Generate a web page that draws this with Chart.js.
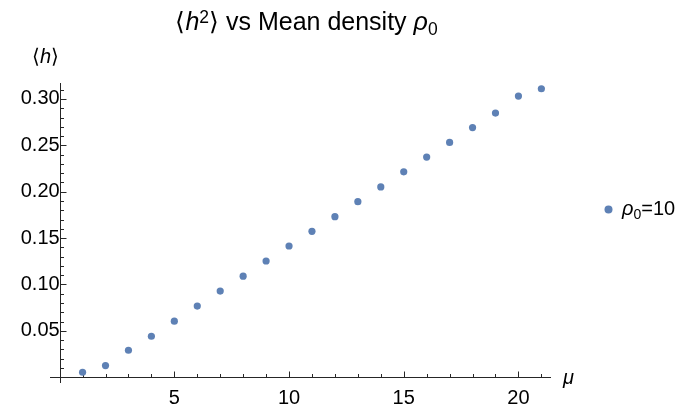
<!DOCTYPE html>
<html>
<head>
<meta charset="utf-8">
<script src="https://cdn.jsdelivr.net/npm/chart.js@4.4.1/dist/chart.umd.min.js"></script>
<style>
  html, body { margin: 0; padding: 0; background: #fff; }
</style>
</head>
<body>
<canvas id="chart" width="684" height="409"></canvas>
<script>
// data
const muValues = [1, 2, 3, 4, 5, 6, 7, 8, 9, 10, 11, 12, 13, 14, 15, 16, 17, 18, 19, 20, 21];
const h2Values = [0.0054, 0.0126, 0.0291, 0.0442, 0.0605, 0.0767, 0.0929, 0.1090, 0.1253, 0.1415,
  0.1573, 0.1731, 0.1893, 0.2052, 0.2214, 0.2373, 0.2531, 0.2692, 0.2848, 0.3031, 0.3110];
const seriesLabel = 'ρ0=10';
const xTicks = [5, 10, 15, 20];
const yTicks = [0.05, 0.10, 0.15, 0.20, 0.25, 0.30];

const FONT = "'Liberation Sans', Arial, Helvetica, sans-serif";
const DOT = '#5E81B5';
const AXIS = '#262626';

// minor ticks every 1 on x, every 0.01 on y
const xMinor = [];
for (let i = 1; i <= 21; i++) if (!xTicks.includes(i)) xMinor.push(i);
const yMinor = [];
for (let i = 1; i <= 31; i++) if (i % 5) yMinor.push(i / 100);

// draws text made of pieces: [text, style], style '', 'i', 'sup', 'sub'
function richText(ctx, parts, x, y, size, align) {
  const fontFor = st => {
    const s = (st === 'sup' || st === 'sub') ? size * 0.7 : size;
    return (st === 'i' ? 'italic ' : '') + s + 'px ' + FONT;
  };
  let w = 0;
  parts.forEach(([t, st]) => { ctx.font = fontFor(st); w += ctx.measureText(t).width; });
  let cx = align === 'center' ? x - w / 2 : align === 'right' ? x - w : x;
  ctx.textAlign = 'left';
  ctx.textBaseline = 'alphabetic';
  parts.forEach(([t, st]) => {
    ctx.font = fontFor(st);
    let dy = 0;
    if (st === 'sup') dy = -size * 0.3;
    if (st === 'sub') dy = size * 0.2;
    ctx.fillText(t, cx, y + dy);
    cx += ctx.measureText(t).width;
  });
}

const mmaAxes = {
  id: 'mmaAxes',
  beforeDatasetsDraw(chart) {
    const { ctx, chartArea: a, scales: { x, y } } = chart;
    const x0 = Math.round(x.getPixelForValue(0)) + 0.5;
    const y0 = Math.round(y.getPixelForValue(0)) + 0.5;
    ctx.save();
    ctx.strokeStyle = AXIS;
    ctx.lineWidth = 1;
    ctx.beginPath();
    ctx.moveTo(a.left, y0); ctx.lineTo(a.right, y0);
    ctx.moveTo(x0, a.top); ctx.lineTo(x0, a.bottom);
    xTicks.forEach(v => { const p = Math.round(x.getPixelForValue(v)) + 0.5; ctx.moveTo(p, y0); ctx.lineTo(p, y0 - 6); });
    xMinor.forEach(v => { const p = Math.round(x.getPixelForValue(v)) + 0.5; ctx.moveTo(p, y0); ctx.lineTo(p, y0 - 3.5); });
    yTicks.forEach(v => { const p = Math.round(y.getPixelForValue(v)) + 0.5; ctx.moveTo(x0, p); ctx.lineTo(x0 + 6, p); });
    yMinor.forEach(v => { const p = Math.round(y.getPixelForValue(v)) + 0.5; ctx.moveTo(x0, p); ctx.lineTo(x0 + 3.5, p); });
    ctx.stroke();
    ctx.restore();
  },
  afterDraw(chart) {
    const { ctx, chartArea: a } = chart;
    ctx.save();
    ctx.fillStyle = '#000';
    // title
    richText(ctx, [['⟨', ''], ['h', 'i'], ['2', 'sup'], ['⟩ vs Mean density ', ''], ['ρ', 'i'], ['0', 'sub']],
      (a.left + a.right) / 2 + 6, 30, 25, 'center');
    // axis labels
    richText(ctx, [['⟨', ''], ['h', 'i'], ['⟩', '']], 59, 63, 20, 'right');
    richText(ctx, [['μ', 'i']], 563, 384, 20, 'left');
    // legend
    const ds = chart.data.datasets[0];
    ctx.fillStyle = ds.backgroundColor;
    ctx.beginPath();
    ctx.arc(608.5, 209.5, 4, 0, Math.PI * 2);
    ctx.fill();
    ctx.fillStyle = '#000';
    const m = ds.label.match(/^(ρ)(\d)(.*)$/);
    richText(ctx, [[m[1], 'i'], [m[2], 'sub'], [m[3], '']], 622, 215, 20, 'left');
    ctx.restore();
  }
};

new Chart(document.getElementById('chart'), {
  type: 'scatter',
  data: {
    datasets: [{
      label: seriesLabel,
      data: muValues.map((m, i) => ({ x: m, y: h2Values[i] })),
      backgroundColor: DOT,
      borderWidth: 0,
      pointRadius: 3.6,
      pointHoverRadius: 3.6
    }]
  },
  options: {
    responsive: false,
    devicePixelRatio: 1,
    animation: false,
    layout: { padding: { left: 50, right: 133, top: 83, bottom: 26 } },
    plugins: { legend: { display: false }, title: { display: false }, tooltip: { enabled: false } },
    scales: {
      x: {
        type: 'linear',
        position: { y: 0 },
        min: -0.42, max: 21.42,
        grid: { display: false },
        border: { display: false },
        afterBuildTicks: s => { s.ticks = xTicks.map(v => ({ value: v })); },
        ticks: { color: '#000', padding: 1, maxRotation: 0, font: { family: FONT, size: 20 } }
      },
      y: {
        type: 'linear',
        position: { x: 0 },
        min: -0.0062, max: 0.3172,
        grid: { display: false },
        border: { display: false },
        afterBuildTicks: s => { s.ticks = yTicks.map(v => ({ value: v })); },
        ticks: { color: '#000', padding: 10, font: { family: FONT, size: 20 }, callback: v => v.toFixed(2) }
      }
    }
  },
  plugins: [mmaAxes]
});
</script>
</body>
</html>
